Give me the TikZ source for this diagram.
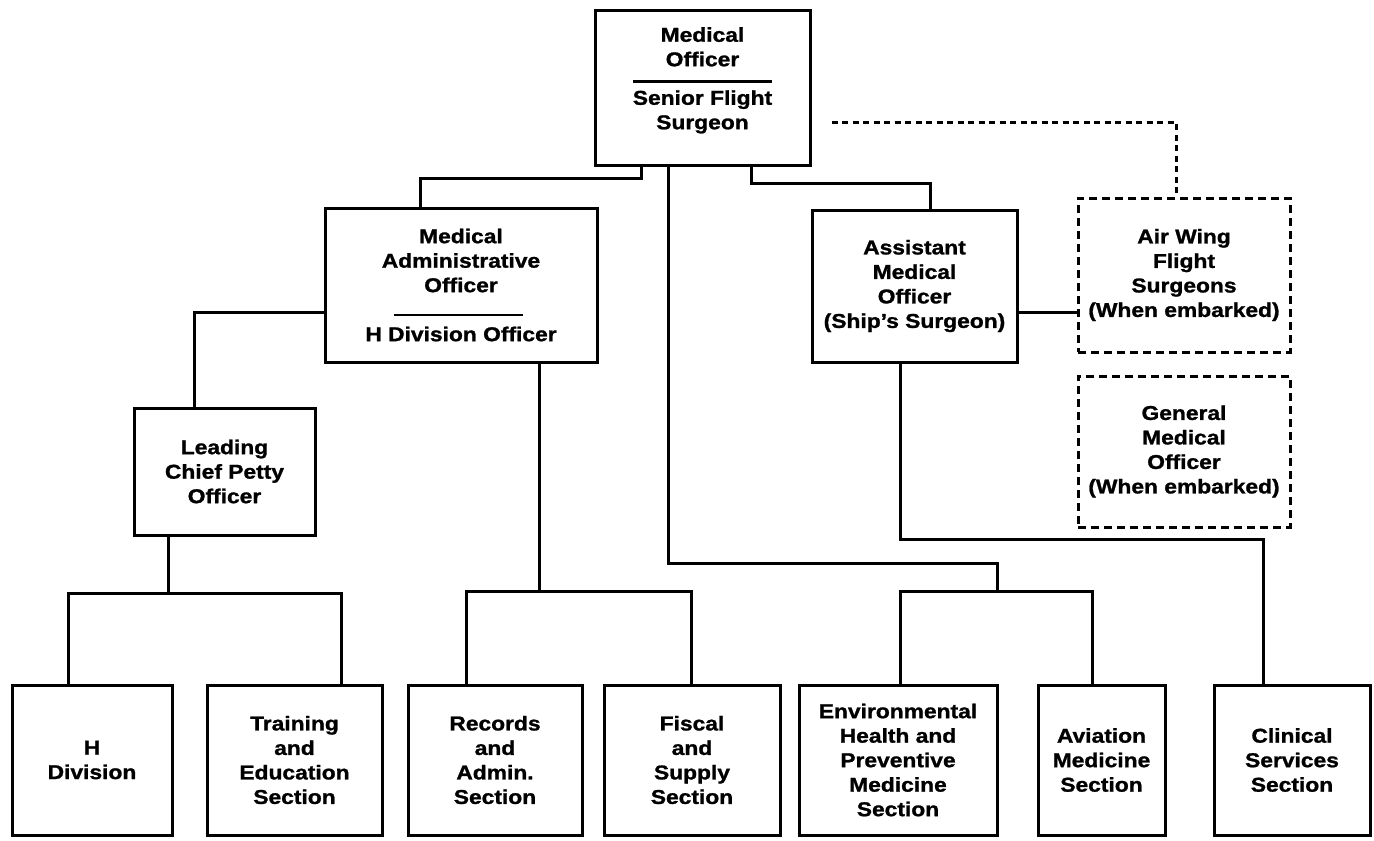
\documentclass[tikz,border=0pt]{standalone}
\usepackage{fontspec}
\newfontfamily\orgfont{Liberation Sans}[FakeStretch=1.14, BoldFeatures={FakeBold=1.2}]
\usetikzlibrary{calc}
\begin{document}
\begin{tikzpicture}[x=1pt,y=-1pt,
  box/.style={draw, line width=3pt, inner sep=0pt, align=center,
    font={\orgfont\bfseries\fontsize{20pt}{24.5pt}\selectfont}},
  dbox/.style={box, line width=3pt, dash pattern=on 8pt off 5pt},
  conn/.style={line width=3pt},
  dconn/.style={line width=2.2pt, dash pattern=on 6pt off 4.5pt},
  sepline/.style={line width=2.4pt}]
\useasboundingbox (0,0) rectangle (1374,841);
\fill[white] (0,0) rectangle (1374,841);

% upper boxes
\node[box, minimum width=215pt, minimum height=155pt] (mo) at (702.5,87.5)
  {Medical\\Officer\\[14pt]Senior Flight\\Surgeon\\[-6pt]\mbox{}};
\node[box, minimum width=272pt, minimum height=154pt] (mao) at (461,285)
  {Medical\\Administrative\\Officer\\[24.5pt]H Division Officer};
\node[box, minimum width=205pt, minimum height=152pt] (amo) at (914.5,286)
  {Assistant\\Medical\\Officer\\(Ship’s Surgeon)};
\node[dbox, minimum width=212pt, minimum height=154pt] (awfs) at (1184,275)
  {Air Wing\\Flight\\Surgeons\\(When embarked)};
\node[dbox, minimum width=212pt, minimum height=151pt] (gmo) at (1184,451.5)
  {General\\Medical\\Officer\\(When embarked)};
\node[box, minimum width=181pt, minimum height=127pt] (lcpo) at (224.5,471.5)
  {Leading\\Chief Petty\\Officer};

% bottom row
\node[box, minimum width=160pt, minimum height=150pt] (hdiv) at (92,760) {H\\Division};
\node[box, minimum width=175pt, minimum height=150pt] (ted) at (294.5,760) {Training\\and\\Education\\Section};
\node[box, minimum width=174pt, minimum height=150pt] (rec) at (495,760) {Records\\and\\Admin.\\Section};
\node[box, minimum width=176pt, minimum height=150pt] (fis) at (692,760) {Fiscal\\and\\Supply\\Section};
\node[box, minimum width=198pt, minimum height=150pt] (env) at (898,760) {Environmental\\Health and\\Preventive\\Medicine\\Section};
\node[box, minimum width=127pt, minimum height=150pt] (avi) at (1101.5,760) {Aviation\\Medicine\\Section};
\node[box, minimum width=156pt, minimum height=150pt] (cli) at (1292,760) {Clinical\\Services\\Section};

% separator rules
\draw[sepline] ($(mo.center)+(-69.5,-6)$) -- ($(mo.center)+(69.5,-6)$);
\draw[sepline] ($(mao.center)+(-67,30)$) -- ($(mao.center)+(62,30)$);

% connectors
\draw[conn] ([xshift=48pt]mo.south west) -- ++(0,12) -| ([xshift=97pt]mao.north west);
\draw[conn] ([xshift=158pt]mo.south west) -- ++(0,17) -| ([xshift=120pt]amo.north west);
\draw[conn] ($(mao.west)+(0,27)$) -| ([xshift=62pt]lcpo.north west);
\draw[conn] ([xshift=36pt]lcpo.south west) -- ++(0,57) coordinate (b1);
\draw[conn] ([xshift=58pt]hdiv.north west) |- (b1) -| ([xshift=136pt]ted.north west);
\draw[conn] ([xshift=216pt]mao.south west) -- ++(0,228) coordinate (b2);
\draw[conn] ([xshift=60pt]rec.north west) |- (b2) -| ([xshift=89pt]fis.north west);
\draw[conn] ([xshift=75pt]mo.south west) -- ++(0,397) -- ++(329,0) -- ++(0,28) coordinate (b3);
\draw[conn] ([xshift=103pt]env.north west) |- (b3) -| ([xshift=56pt]avi.north west);
\draw[conn] ([xshift=90pt]amo.south west) -- ++(0,176) -| ([xshift=51pt]cli.north west);
\coordinate (c1) at ($(amo.east)+(0,26)$);
\draw[conn] (c1) -- (c1 -| awfs.west);
\draw[dconn] ($(mo.east)+(20,35)$) -| ([xshift=100pt]awfs.north west);
\end{tikzpicture}
\end{document}
